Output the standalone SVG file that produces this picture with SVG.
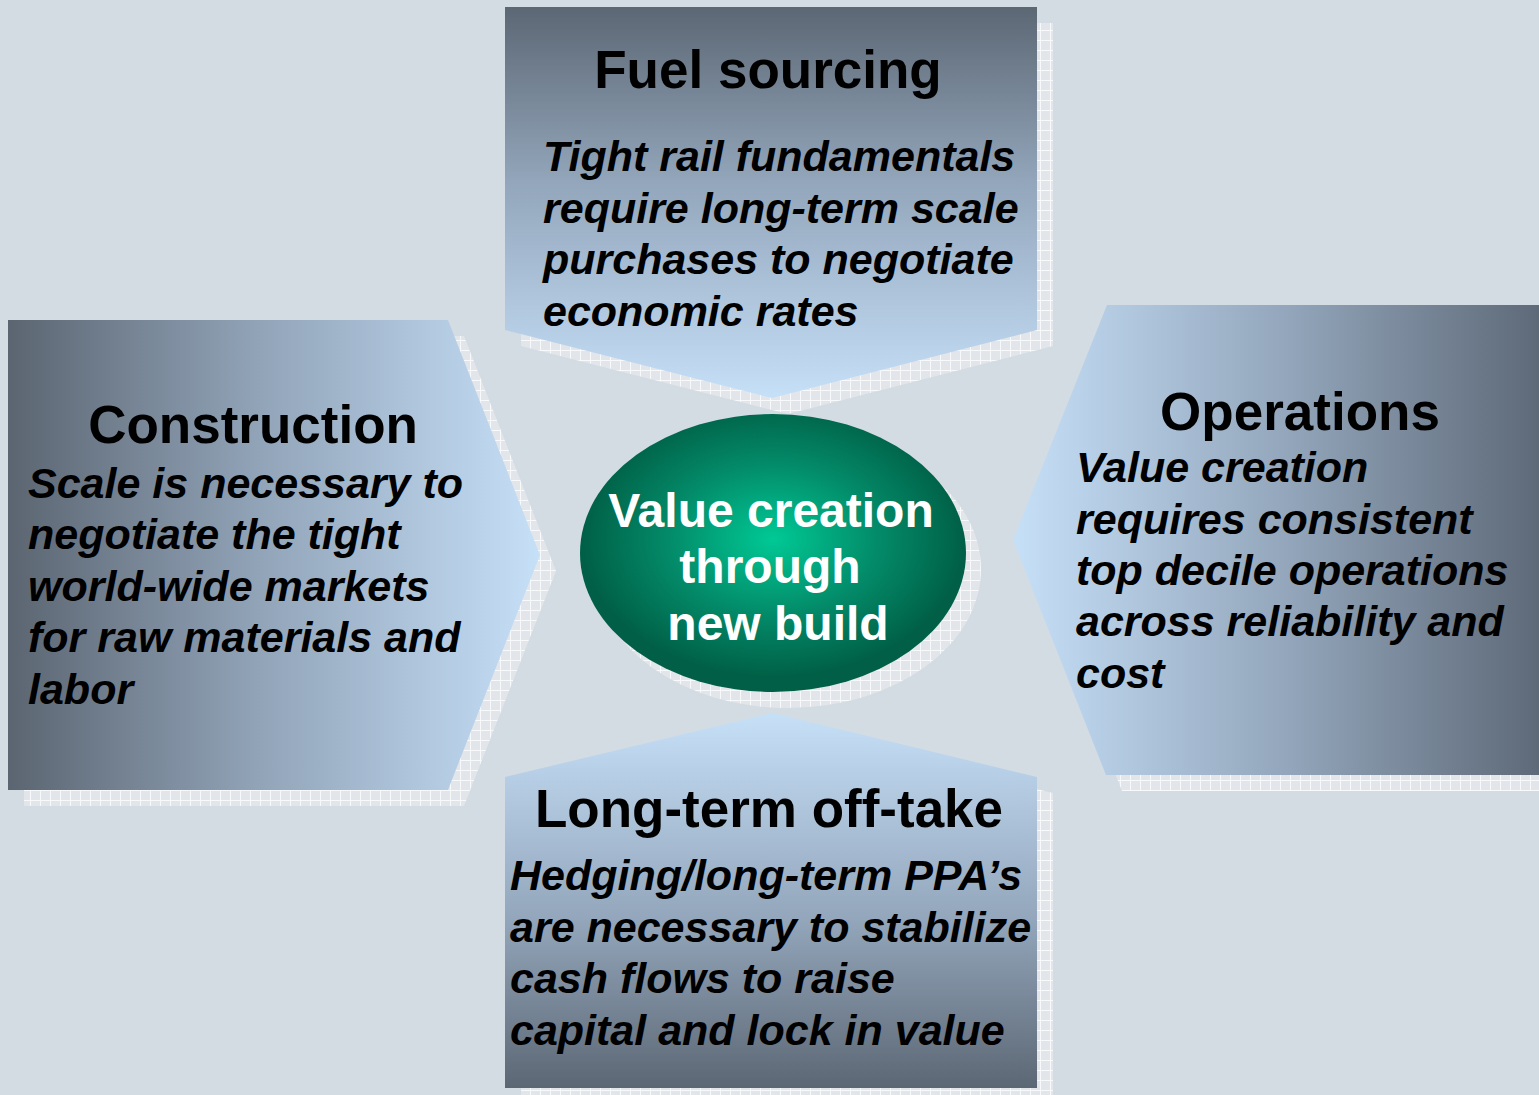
<svg xmlns="http://www.w3.org/2000/svg" width="1539" height="1095" viewBox="0 0 1539 1095">
  <defs>
    <style>
      .title { font-family: "Liberation Sans", Arial, sans-serif; font-weight: bold; font-size: 53px; fill: #000; text-anchor: middle; }
      .body { font-family: "Liberation Sans", Arial, sans-serif; font-weight: bold; font-style: italic; font-size: 43px; fill: #000; }
      .core { font-family: "Liberation Sans", Arial, sans-serif; font-weight: bold; font-size: 48px; fill: #fff; text-anchor: middle; }
      .shadow { fill: url(#grid); }
    </style>
    <!-- light hatched drop-shadow fill -->
    <pattern id="grid" width="10" height="10" patternUnits="userSpaceOnUse">
      <rect width="10" height="10" fill="#e2e6eb"/>
      <path d="M0 0.5H10M0.5 0V10" stroke="#f7f9fb" stroke-width="1"/>
    </pattern>
    <linearGradient id="gDown" x1="0" y1="0" x2="0" y2="1">
      <stop offset="0" stop-color="#5c6774"/>
      <stop offset="0.45" stop-color="#93a6bb"/>
      <stop offset="1" stop-color="#c6e0f8"/>
    </linearGradient>
    <linearGradient id="gUp" x1="0" y1="0" x2="0" y2="1">
      <stop offset="0" stop-color="#c6e0f8"/>
      <stop offset="0.55" stop-color="#93a6bb"/>
      <stop offset="1" stop-color="#5c6774"/>
    </linearGradient>
    <linearGradient id="gRight" x1="0" y1="0" x2="1" y2="0">
      <stop offset="0" stop-color="#5b6571"/>
      <stop offset="0.45" stop-color="#8fa1b5"/>
      <stop offset="1" stop-color="#c6e0f8"/>
    </linearGradient>
    <linearGradient id="gLeft" x1="0" y1="0" x2="1" y2="0">
      <stop offset="0" stop-color="#c6e0f8"/>
      <stop offset="0.5" stop-color="#93a6bb"/>
      <stop offset="1" stop-color="#5a6573"/>
    </linearGradient>
    <radialGradient id="gCore" cx="0.5" cy="0.45" r="0.5">
      <stop offset="0" stop-color="#00c995"/>
      <stop offset="0.55" stop-color="#038a68"/>
      <stop offset="1" stop-color="#005f46"/>
    </radialGradient>
  </defs>

  <!-- slide background -->
  <rect width="1539" height="1095" fill="#d3dbe3"/>

  <!-- drop shadows -->
  <g id="shadows">
    <path class="shadow" d="M521 23H1053V346L788 414L521 346Z"/>
    <path class="shadow" d="M24 336H464L556 571L464 806H24Z"/>
    <path class="shadow" d="M1123 321H1560V791H1122L1029 556Z"/>
    <path class="shadow" d="M788 729L1053 793V1104H521V793Z"/>
    <ellipse class="shadow" cx="788" cy="569" rx="193" ry="139"/>
  </g>

  <g id="fuel-sourcing">
    <path d="M505 7H1037V330L772 398L505 330Z" fill="url(#gDown)"/>
    <text class="title" x="768" y="88">Fuel sourcing</text>
    <text class="body" x="543" y="171">Tight rail fundamentals</text>
    <text class="body" x="543" y="222.5">require long-term scale</text>
    <text class="body" x="543" y="274">purchases to negotiate</text>
    <text class="body" x="543" y="325.5">economic rates</text>
  </g>

  <g id="construction">
    <path d="M8 320H448L540 555L448 790H8Z" fill="url(#gRight)"/>
    <text class="title" x="253" y="443">Construction</text>
    <text class="body" x="28" y="497.5">Scale is necessary to</text>
    <text class="body" x="28" y="549">negotiate the tight</text>
    <text class="body" x="28" y="600.5">world-wide markets</text>
    <text class="body" x="28" y="652">for raw materials and</text>
    <text class="body" x="28" y="703.5">labor</text>
  </g>

  <g id="operations">
    <path d="M1107 305H1560V775H1106L1013 540Z" fill="url(#gLeft)"/>
    <text class="title" x="1300" y="430">Operations</text>
    <text class="body" x="1076" y="482">Value creation</text>
    <text class="body" x="1076" y="533.5">requires consistent</text>
    <text class="body" x="1076" y="585">top decile operations</text>
    <text class="body" x="1076" y="636">across reliability and</text>
    <text class="body" x="1076" y="687.5">cost</text>
  </g>

  <g id="long-term-off-take">
    <path d="M772 713L1037 777V1088H505V777Z" fill="url(#gUp)"/>
    <text class="title" x="769" y="827">Long-term off-take</text>
    <text class="body" x="510" y="890">Hedging/long-term PPA’s</text>
    <text class="body" x="510" y="942">are necessary to stabilize</text>
    <text class="body" x="510" y="993">cash flows to raise</text>
    <text class="body" x="510" y="1045">capital and lock in value</text>
  </g>

  <g id="value-creation">
    <ellipse cx="773" cy="553" rx="193" ry="139" fill="url(#gCore)"/>
    <text class="core" x="771" y="527">Value creation</text>
    <text class="core" x="770" y="583">through</text>
    <text class="core" x="778" y="640">new build</text>
  </g>
</svg>
